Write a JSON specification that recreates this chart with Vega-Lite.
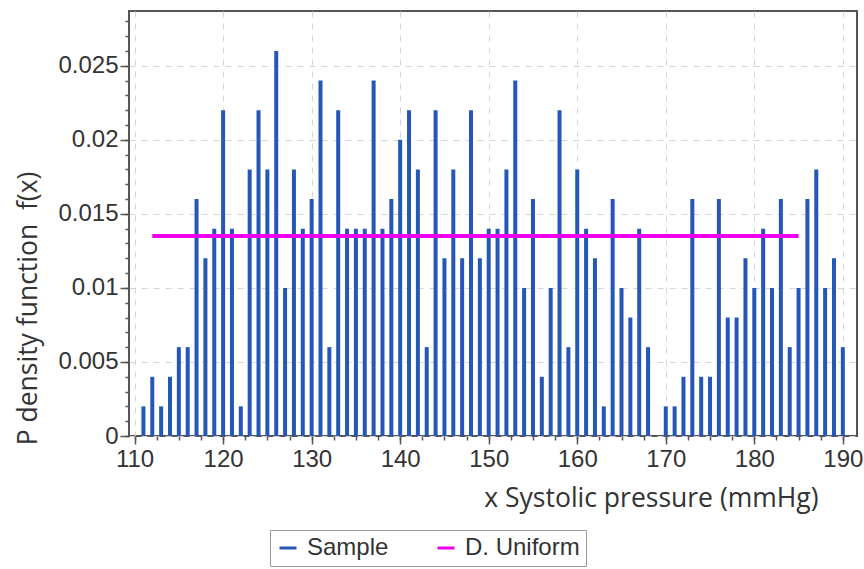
{
  "$schema": "https://vega.github.io/schema/vega-lite/v6.json",
  "width": 728,
  "height": 425,
  "autosize": {"type": "none"},
  "padding": {"left": 129, "top": 11, "right": 7, "bottom": 133},
  "background": "white",
  "config": {
    "view": {"stroke": "#555555", "strokeWidth": 2},
    "axis": {"domain": false, "tickColor": "#555555", "tickWidth": 1.5}
  },
  "datasets": {
    "sample": [
      {"x": 111, "density": 0.002, "series": "Sample"},
      {"x": 112, "density": 0.004, "series": "Sample"},
      {"x": 113, "density": 0.002, "series": "Sample"},
      {"x": 114, "density": 0.004, "series": "Sample"},
      {"x": 115, "density": 0.006, "series": "Sample"},
      {"x": 116, "density": 0.006, "series": "Sample"},
      {"x": 117, "density": 0.016, "series": "Sample"},
      {"x": 118, "density": 0.012, "series": "Sample"},
      {"x": 119, "density": 0.014, "series": "Sample"},
      {"x": 120, "density": 0.022, "series": "Sample"},
      {"x": 121, "density": 0.014, "series": "Sample"},
      {"x": 122, "density": 0.002, "series": "Sample"},
      {"x": 123, "density": 0.018, "series": "Sample"},
      {"x": 124, "density": 0.022, "series": "Sample"},
      {"x": 125, "density": 0.018, "series": "Sample"},
      {"x": 126, "density": 0.026, "series": "Sample"},
      {"x": 127, "density": 0.010, "series": "Sample"},
      {"x": 128, "density": 0.018, "series": "Sample"},
      {"x": 129, "density": 0.014, "series": "Sample"},
      {"x": 130, "density": 0.016, "series": "Sample"},
      {"x": 131, "density": 0.024, "series": "Sample"},
      {"x": 132, "density": 0.006, "series": "Sample"},
      {"x": 133, "density": 0.022, "series": "Sample"},
      {"x": 134, "density": 0.014, "series": "Sample"},
      {"x": 135, "density": 0.014, "series": "Sample"},
      {"x": 136, "density": 0.014, "series": "Sample"},
      {"x": 137, "density": 0.024, "series": "Sample"},
      {"x": 138, "density": 0.014, "series": "Sample"},
      {"x": 139, "density": 0.016, "series": "Sample"},
      {"x": 140, "density": 0.020, "series": "Sample"},
      {"x": 141, "density": 0.022, "series": "Sample"},
      {"x": 142, "density": 0.018, "series": "Sample"},
      {"x": 143, "density": 0.006, "series": "Sample"},
      {"x": 144, "density": 0.022, "series": "Sample"},
      {"x": 145, "density": 0.012, "series": "Sample"},
      {"x": 146, "density": 0.018, "series": "Sample"},
      {"x": 147, "density": 0.012, "series": "Sample"},
      {"x": 148, "density": 0.022, "series": "Sample"},
      {"x": 149, "density": 0.012, "series": "Sample"},
      {"x": 150, "density": 0.014, "series": "Sample"},
      {"x": 151, "density": 0.014, "series": "Sample"},
      {"x": 152, "density": 0.018, "series": "Sample"},
      {"x": 153, "density": 0.024, "series": "Sample"},
      {"x": 154, "density": 0.010, "series": "Sample"},
      {"x": 155, "density": 0.016, "series": "Sample"},
      {"x": 156, "density": 0.004, "series": "Sample"},
      {"x": 157, "density": 0.010, "series": "Sample"},
      {"x": 158, "density": 0.022, "series": "Sample"},
      {"x": 159, "density": 0.006, "series": "Sample"},
      {"x": 160, "density": 0.018, "series": "Sample"},
      {"x": 161, "density": 0.014, "series": "Sample"},
      {"x": 162, "density": 0.012, "series": "Sample"},
      {"x": 163, "density": 0.002, "series": "Sample"},
      {"x": 164, "density": 0.016, "series": "Sample"},
      {"x": 165, "density": 0.010, "series": "Sample"},
      {"x": 166, "density": 0.008, "series": "Sample"},
      {"x": 167, "density": 0.014, "series": "Sample"},
      {"x": 168, "density": 0.006, "series": "Sample"},
      {"x": 170, "density": 0.002, "series": "Sample"},
      {"x": 171, "density": 0.002, "series": "Sample"},
      {"x": 172, "density": 0.004, "series": "Sample"},
      {"x": 173, "density": 0.016, "series": "Sample"},
      {"x": 174, "density": 0.004, "series": "Sample"},
      {"x": 175, "density": 0.004, "series": "Sample"},
      {"x": 176, "density": 0.016, "series": "Sample"},
      {"x": 177, "density": 0.008, "series": "Sample"},
      {"x": 178, "density": 0.008, "series": "Sample"},
      {"x": 179, "density": 0.012, "series": "Sample"},
      {"x": 180, "density": 0.010, "series": "Sample"},
      {"x": 181, "density": 0.014, "series": "Sample"},
      {"x": 182, "density": 0.010, "series": "Sample"},
      {"x": 183, "density": 0.016, "series": "Sample"},
      {"x": 184, "density": 0.006, "series": "Sample"},
      {"x": 185, "density": 0.010, "series": "Sample"},
      {"x": 186, "density": 0.016, "series": "Sample"},
      {"x": 187, "density": 0.018, "series": "Sample"},
      {"x": 188, "density": 0.010, "series": "Sample"},
      {"x": 189, "density": 0.012, "series": "Sample"},
      {"x": 190, "density": 0.006, "series": "Sample"}
    ],
    "uniform": [
      {"x": 112, "x2": 185, "density": 0.0135, "series": "D. Uniform"}
    ]
  },
  "layer": [
    {
      "data": {"name": "sample"},
      "mark": {"type": "rule", "strokeWidth": 4},
      "encoding": {
        "x": {
          "field": "x", "type": "quantitative",
          "scale": {"domain": [109.37, 191.6], "nice": false, "zero": false},
          "axis": {
            "orient": "bottom",
            "values": [110, 120, 130, 140, 150, 160, 170, 180, 190],
            "tickSize": 8,
            "labelFont": "Liberation Sans", "labelFontSize": 24, "labelColor": "#333333", "labelPadding": 3,
            "grid": true, "gridColor": "#d4d4d4", "gridDash": [6, 6], "gridWidth": 1,
            "title": "x Systolic pressure (mmHg)",
            "titleFont": "Open Sans", "titleFontSize": 26.5, "titleFontWeight": "normal", "titleColor": "#333333",
            "titleAlign": "right", "titleBaseline": "middle", "titleX": 689, "titleY": 62
          }
        },
        "y": {
          "field": "density", "type": "quantitative",
          "scale": {"domain": [0, 0.0287], "nice": false},
          "axis": {
            "orient": "left",
            "values": [0, 0.005, 0.01, 0.015, 0.02, 0.025],
            "labelExpr": "format(datum.value, '~g')",
            "tickSize": 9,
            "labelFont": "Liberation Sans", "labelFontSize": 24, "labelColor": "#333333", "labelPadding": 2,
            "grid": true, "gridColor": "#d4d4d4", "gridDash": [6, 6], "gridWidth": 1,
            "title": "P density function\u00a0 f(x)",
            "titleFont": "Open Sans", "titleFontSize": 26.5, "titleFontWeight": "normal", "titleColor": "#333333",
            "titleAngle": 270, "titleAlign": "center", "titleBaseline": "middle", "titleX": -101, "titleY": 297
          }
        },
        "y2": {"datum": 0},
        "color": {
          "field": "series", "type": "nominal",
          "scale": {"domain": ["Sample", "D. Uniform"], "range": ["#2457B8", "#EE00EE"]},
          "legend": {
            "title": null, "orient": "none", "direction": "horizontal",
            "legendX": 141, "legendY": 519,
            "strokeColor": "#999999", "padding": 6, "columnPadding": 42,
            "symbolType": "stroke", "symbolSize": 289, "symbolStrokeWidth": 3,
            "labelFont": "Liberation Sans", "labelFontSize": 24, "labelColor": "#333333", "labelOffset": 7
          }
        }
      }
    },
    {
      "data": {"name": "uniform"},
      "mark": {"type": "rule", "strokeWidth": 4},
      "encoding": {
        "x": {
          "field": "x", "type": "quantitative",
          "axis": {
            "orient": "bottom",
            "values": [110, 112.5, 115, 117.5, 120, 122.5, 125, 127.5, 130, 132.5, 135, 137.5, 140, 142.5, 145, 147.5, 150, 152.5, 155, 157.5, 160, 162.5, 165, 167.5, 170, 172.5, 175, 177.5, 180, 182.5, 185, 187.5, 190],
            "tickSize": 4, "labels": false, "grid": false, "title": null
          }
        },
        "x2": {"field": "x2"},
        "y": {
          "field": "density", "type": "quantitative",
          "axis": {
            "orient": "left",
            "values": [0, 0.001, 0.002, 0.003, 0.004, 0.005, 0.006, 0.007, 0.008, 0.009, 0.01, 0.011, 0.012, 0.013, 0.014, 0.015, 0.016, 0.017, 0.018, 0.019, 0.02, 0.021, 0.022, 0.023, 0.024, 0.025, 0.026, 0.027, 0.028],
            "tickSize": 4, "labels": false, "grid": false, "title": null
          }
        },
        "color": {"field": "series", "type": "nominal"}
      }
    }
  ],
  "resolve": {"axis": {"x": "independent", "y": "independent"}}
}
